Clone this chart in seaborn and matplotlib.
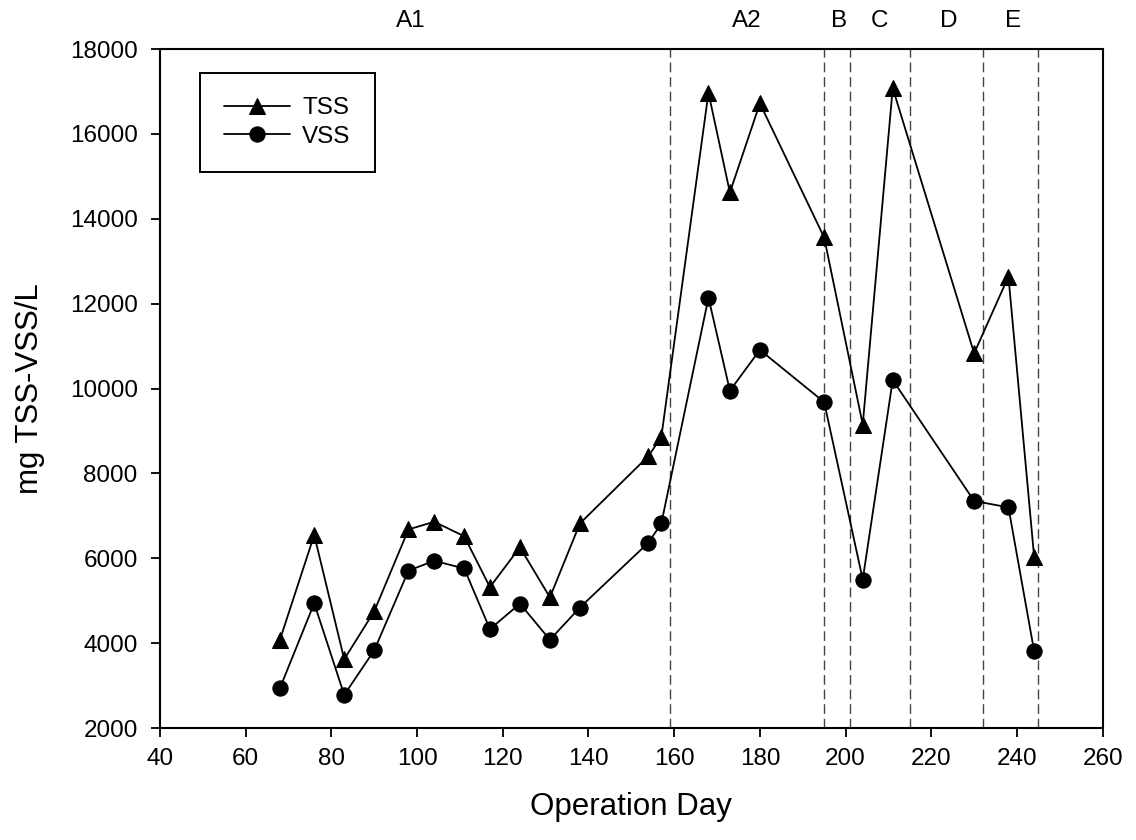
import matplotlib
matplotlib.use("Agg")
import matplotlib.pyplot as plt
import seaborn as sns
import pandas as pd

days = [68, 76, 83, 90, 98, 104, 111, 117, 124, 131, 138, 154, 157,
        168, 173, 180, 195, 204, 211, 230, 238, 244]
tss = [4080, 6550, 3620, 4750, 6680, 6860, 6520, 5320, 6260, 5080, 6820, 8410, 8860,
       16970, 14620, 16720, 13560, 9150, 17080, 10830, 12640, 6030]
vss = [2940, 4940, 2780, 3830, 5710, 5940, 5760, 4330, 4930, 4080, 4840, 6370, 6820,
       12140, 9950, 10910, 9680, 5500, 10200, 7350, 7200, 3810]
phase_bounds = [159, 195, 201, 215, 232, 245]
phase_labels = ["A1", "A2", "B", "C", "D", "E"]
phase_label_x = [98.5, 177, 198.5, 208, 224, 239]

sns.set_theme(style="ticks")
plt.rcParams['font.family'] = ['Liberation Sans', 'DejaVu Sans']
plt.rcParams.update({
    "text.color": "black", "axes.labelcolor": "black",
    "xtick.color": "black", "ytick.color": "black",
    "axes.edgecolor": "black",
})

fig = plt.figure(figsize=(11.36, 8.4), dpi=100)
ax = fig.add_axes([0.1408, 0.1333, 0.8299, 0.8083])

df_t = pd.DataFrame({"day": days, "value": tss})
df_v = pd.DataFrame({"day": days, "value": vss})

sns.lineplot(data=df_t, x="day", y="value", ax=ax, color="black", lw=1.3,
             marker="^", markersize=12, markeredgecolor="black", label="TSS")
sns.lineplot(data=df_v, x="day", y="value", ax=ax, color="black", lw=1.3,
             marker="o", markersize=11, markeredgecolor="black", label="VSS")

for b in phase_bounds:
    ax.axvline(b, color="#444444", lw=1.0, ls=(0, (7, 3.5)), zorder=0)

for lx, lab in zip(phase_label_x, phase_labels):
    ax.text(lx, 18000 + 28 / 679 * 16000, lab, ha="center", va="center", fontsize=17.5)

ax.set_xlim(40, 260)
ax.set_ylim(2000, 18000)
ax.set_xticks(range(40, 261, 20))
ax.set_yticks(range(2000, 18001, 2000))
ax.tick_params(axis="both", direction="out", length=6.5, width=1.3, labelsize=17.5,
               top=False, right=False, color="black")
ax.tick_params(axis="x", pad=8)
ax.tick_params(axis="y", pad=9.5)
for s in ax.spines.values():
    s.set_linewidth(1.5)
    s.set_color("black")

ax.set_xlabel("Operation Day", fontsize=22.5, labelpad=16)
ax.set_ylabel("mg TSS-VSS/L", fontsize=22.5, labelpad=18)

leg = ax.legend(loc="upper left", bbox_to_anchor=(0.0424, 0.965), borderaxespad=0,
                fontsize=17.5, frameon=True, fancybox=False, edgecolor="black",
                framealpha=1, handlelength=2.7, handletextpad=0.5,
                borderpad=1.0, labelspacing=0.27)
leg.get_frame().set_linewidth(1.4)

fig.savefig("out.png", dpi=100)
